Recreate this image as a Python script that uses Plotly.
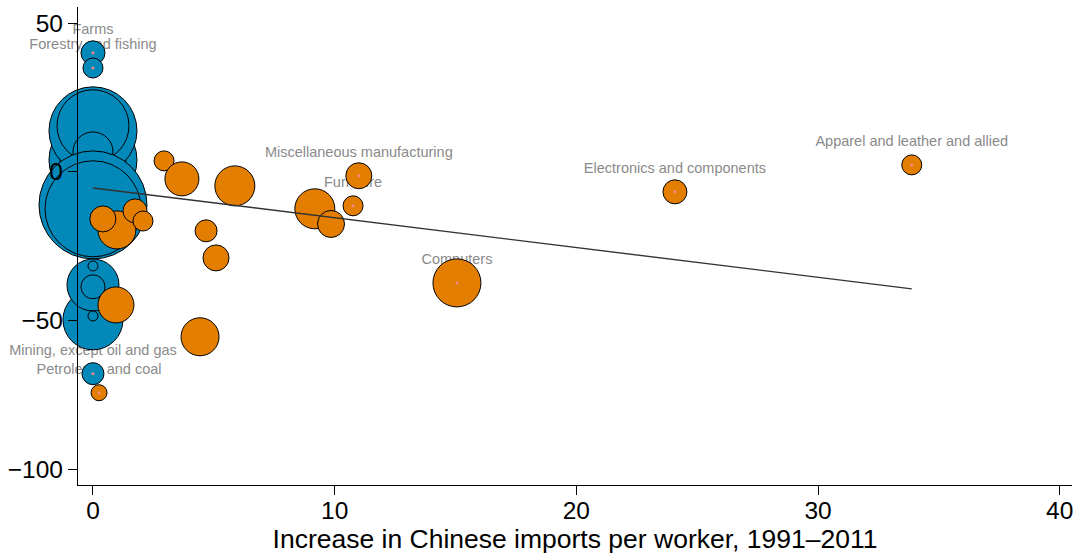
import plotly.graph_objects as go

# ---------------- data ----------------
# Non-manufacturing sectors (blue): change in employment vs. import exposure (all at 0)
blue_x = [0, 0, 0, 0, 0, 0, 0, 0, 0, 0, 0, 0, 0, 0, 0]
blue_y = [4.0, 3.4, 13.8, 15.5, 6.7, -11.1, -12.4, -49.7, -38.0, -38.6, -31.6, -48.4, 40.0, 34.9, -67.8]
blue_emp = [7744, 4356, 7744, 5184, 1600, 11664, 9216, 3600, 2704, 576, 100, 100, 576, 400, 484]
blue_label = ["", "", "", "", "", "", "", "", "", "", "", "",
              "Farms", "Forestry and fishing", "Mining, except oil and gas"]

# Manufacturing sectors (orange)
orange_x = [2.94, 3.68, 5.87, 0.99, 0.41, 1.74, 2.07, 4.68, 5.09, 0.95, 4.43, 0.25,
            9.18, 9.85, 10.76, 11.0, 15.06, 24.08, 33.88]
orange_y = [3.7, -2.35, -4.7, -19.5, -15.8, -13.1, -16.5, -19.8, -28.9, -44.7, -55.4, -74.2,
            -12.4, -17.5, -11.4, -1.3, -37.3, -6.7, 2.35]
orange_emp = [400, 1156, 1600, 1444, 676, 576, 400, 484, 676, 1296, 1444, 256,
              1600, 729, 400, 676, 2304, 576, 400]
orange_label = ["", "", "", "", "", "", "", "", "", "", "", "Petroleum and coal",
                "", "", "Furniture", "Miscellaneous manufacturing", "Computers",
                "Electronics and components", "Apparel and leather and allied"]

# Fitted line (endpoints)
fit_x = [0, 33.88]
fit_y = [-5.4, -39.3]

x_ticks = [0, 10, 20, 30, 40]
y_ticks = [-100, -50, 0, 50]
x_title = "Increase in Chinese imports per worker, 1991\u20132011"

BLUE = "#0388BA"
ORANGE = "#E37E00"
FONT = "Liberation Sans, Arial, sans-serif"

# labelled points
lab_x, lab_y, lab_t = [], [], []
for xs, ys, ts in ((blue_x, blue_y, blue_label), (orange_x, orange_y, orange_label)):
    for a, b, t in zip(xs, ys, ts):
        if t:
            lab_x.append(a); lab_y.append(b); lab_t.append(t)

fig = go.Figure()

# labels (drawn behind markers)
fig.add_trace(go.Scatter(
    x=lab_x, y=lab_y, text=lab_t, mode="markers+text",
    textposition="top center",
    marker=dict(size=23, color="rgba(0,0,0,0)"),
    textfont=dict(family=FONT, size=14.5, color="#8a8a8a"),
    cliponaxis=False, hoverinfo="skip", showlegend=False))

fig.add_trace(go.Scatter(
    x=blue_x, y=blue_y, mode="markers",
    marker=dict(size=blue_emp, sizemode="area", sizeref=2, color=BLUE, opacity=1,
                line=dict(color="black", width=1)),
    cliponaxis=False, showlegend=False))

fig.add_trace(go.Scatter(
    x=orange_x, y=orange_y, mode="markers",
    marker=dict(size=orange_emp, sizemode="area", sizeref=2, color=ORANGE, opacity=1,
                line=dict(color="black", width=1)),
    cliponaxis=False, showlegend=False))

fig.add_trace(go.Scatter(
    x=fit_x, y=fit_y, mode="lines",
    line=dict(color="#333333", width=1.4),
    cliponaxis=False, showlegend=False))

# small centre dots on labelled points
fig.add_trace(go.Scatter(
    x=lab_x, y=lab_y, mode="markers",
    marker=dict(size=3, color="#f08a8a"),
    cliponaxis=False, showlegend=False, hoverinfo="skip"))

axis_common = dict(
    showgrid=False, zeroline=False, showline=True, linecolor="black", linewidth=1.3,
    ticks="outside", ticklen=9, tickwidth=1.3, tickcolor="black",
    tickfont=dict(family=FONT, size=24.5, color="black"),
)

fig.update_layout(
    width=1077, height=555,
    margin=dict(l=78, r=5, t=7, b=70),
    paper_bgcolor="white", plot_bgcolor="white",
    xaxis=dict(range=[-0.62, 40.51], tickvals=x_ticks, ticklabelstandoff=-6, **axis_common,
               title=dict(text=x_title, font=dict(family=FONT, size=26.5, color="black"),
                          standoff=0)),
    yaxis=dict(range=[-105.2, 55.4], tickvals=y_ticks, **axis_common),
)

fig.write_html("out.html")
